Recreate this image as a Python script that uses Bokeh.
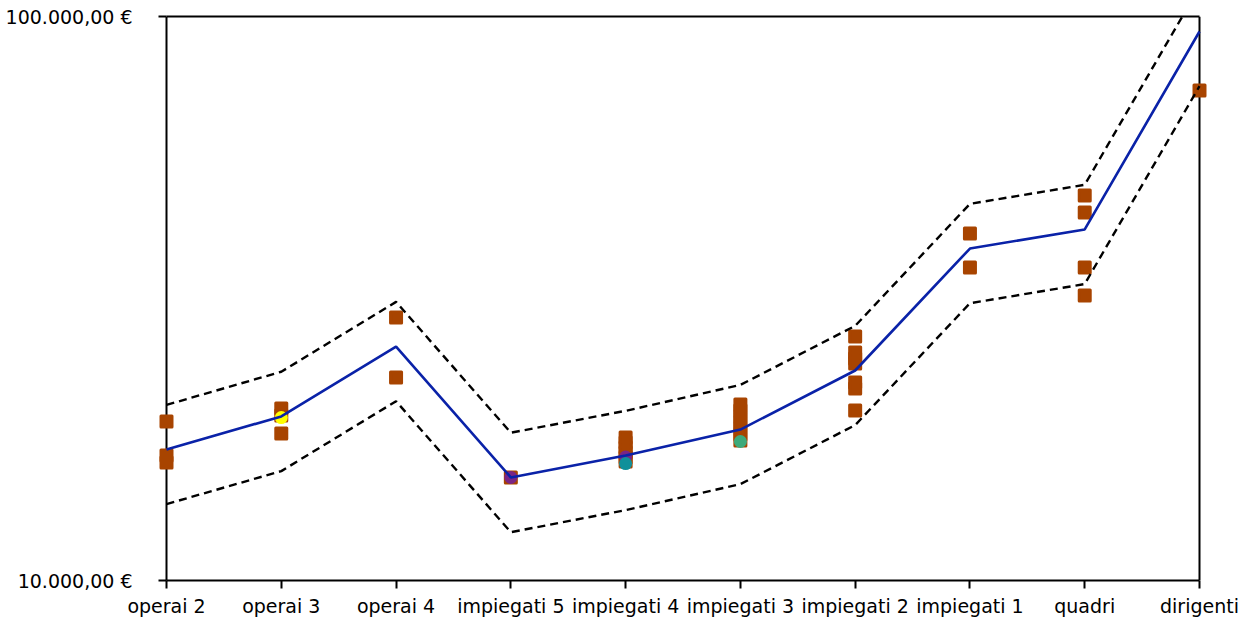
from bokeh.plotting import figure
from bokeh.models import Range1d, FixedTicker, CustomJSTickFormatter, Span, LinearAxis
from bokeh.embed import file_html
from bokeh.resources import INLINE

categories = ["operai 2", "operai 3", "operai 4", "impiegati 5", "impiegati 4",
              "impiegati 3", "impiegati 2", "impiegati 1", "quadri", "dirigenti"]

# mean line and +/- band (dashed)
mean_line = [17070, 19540, 25990, 15230, 16660, 18520, 23570, 38780, 41920, 94060]
upper_line = [20480, 23450, 31190, 18280, 19990, 22220, 28280, 46540, 50300, 112870]
lower_line = [13660, 15630, 20790, 12180, 13330, 14820, 18860, 31020, 33540, 75250]

# individual salaries (orange squares)
point_cat = (["operai 2"] * 3 + ["operai 3"] * 3 + ["operai 4"] * 2 + ["impiegati 5"]
             + ["impiegati 4"] * 6 + ["impiegati 3"] * 7 + ["impiegati 2"] * 7
             + ["impiegati 1"] * 2 + ["quadri"] * 4 + ["dirigenti"])
point_val = [19140, 16660, 16190,
             20180, 19610, 18220,
             29260, 22900,
             15230,
             17930, 17570, 17220, 16870, 16530, 16260,
             20520, 20020, 19540, 19060, 18600, 18150, 17710,
             27080, 25370, 24760, 24260, 22440, 21890, 20020,
             41230, 35890,
             48160, 44930, 35890, 32010,
             73930]

# highlighted individuals (coloured circles)
hl_cat = ["operai 3", "impiegati 5", "impiegati 4", "impiegati 4", "impiegati 3"]
hl_val = [19450, 15230, 16550, 16120, 17640]
hl_color = ["#FFFF00", "#7A2585", "#7A2585", "#10909A", "#3DAA7A"]

idx = {c: i for i, c in enumerate(categories)}
xs_line = list(range(len(categories)))
xs_pts = [idx[c] for c in point_cat]
xs_hl = [idx[c] for c in hl_cat]
n_last = len(categories) - 1

FONT = "DejaVu Sans"

# the frame is 8px wider on each side than the category span so edge markers aren't clipped
inner_w = 1033
pad = n_last * 8 / inner_w

p = figure(width=1240, height=620, output_backend="svg", toolbar_location=None,
           y_axis_type="log", x_range=Range1d(-pad, n_last + pad),
           y_range=Range1d(10000, 100000),
           min_border_left=158, min_border_top=16, min_border_right=33, min_border_bottom=40)
p.frame_width = inner_w + 16
p.frame_height = 564

p.xgrid.visible = False
p.ygrid.visible = False
p.outline_line_color = None
p.background_fill_color = "white"
p.border_fill_color = "white"

# box edges at the first / last category
p.add_layout(Span(location=0, dimension="height", line_color="black", line_width=2, level="underlay"))
p.add_layout(Span(location=n_last, dimension="height", line_color="black", line_width=2, level="underlay"))

p.square(xs_pts, point_val, size=11, fill_color="#A84400", line_color="#A84400",
         line_width=3, line_join="round")
p.scatter(xs_hl, hl_val, size=13, marker="circle", fill_color=hl_color, line_color=None)

p.line(xs_line, upper_line, line_color="black", line_width=2.4, line_dash="8 5")
p.line(xs_line, lower_line, line_color="black", line_width=2.4, line_dash="8 5")
p.line(xs_line, mean_line, line_color="#0A22A8", line_width=2.6)

xa = p.xaxis[0]
xa.ticker = FixedTicker(ticks=xs_line, minor_ticks=[])
xa.bounds = (0, n_last)
xa.major_label_overrides = {i: c for i, c in enumerate(categories)}
xa.major_label_text_font = FONT
xa.major_label_text_font_size = "19px"
xa.major_label_text_color = "black"
xa.axis_line_width = 2
xa.major_tick_line_width = 2
xa.major_tick_out = 8
xa.major_tick_in = 0
xa.minor_tick_line_color = None
xa.major_label_standoff = 6

top = LinearAxis(ticker=FixedTicker(ticks=[], minor_ticks=[]), bounds=(0, n_last),
                 axis_line_width=2, major_tick_line_color=None, minor_tick_line_color=None,
                 major_label_text_font_size="0px")
p.add_layout(top, "above")

ya = p.yaxis[0]
ya.ticker = FixedTicker(ticks=[10000, 100000], minor_ticks=[])
ya.formatter = CustomJSTickFormatter(code="""
var s = Math.round(tick).toString().replace(/\\B(?=(\\d{3})+(?!\\d))/g, '.');
return s + ',00 \u20ac';
""")
ya.major_label_text_font = FONT
ya.major_label_text_font_size = "19px"
ya.major_label_text_color = "black"
ya.axis_line_color = None
ya.major_tick_line_width = 2
ya.major_tick_out = 0
ya.major_tick_in = 8
ya.minor_tick_line_color = None
ya.major_label_standoff = 26

open("out.html", "w").write(file_html(p, INLINE))
